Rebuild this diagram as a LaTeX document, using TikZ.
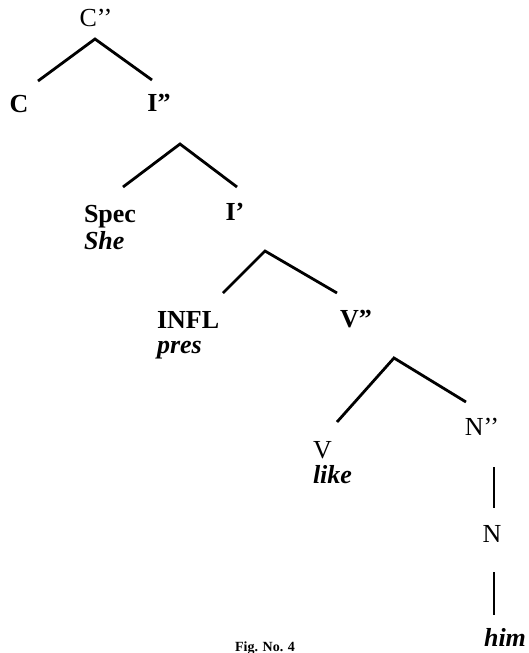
\documentclass[tikz,border=0pt]{standalone}
\usepackage{fontspec}
\setmainfont{Liberation Serif}
\begin{document}
\begin{tikzpicture}[x=1pt,y=-1pt,
  lbl/.style={inner sep=0pt,outer sep=0pt,font=\fontsize{26}{30}\selectfont},
  cat/.style={lbl,font=\fontsize{26}{30}\selectfont\bfseries},
  word/.style={lbl,font=\fontsize{26}{30}\selectfont\bfseries\itshape},
  branch/.style={line width=2.8pt,line cap=butt,line join=miter}]
\useasboundingbox (0,0) rectangle (529,653);

% category labels and words
\node[lbl,anchor=base]      (Cpp)  at (96,26)   {C’’};
\node[cat,anchor=base]      (C)    at (19,112)  {C};
\node[cat,anchor=base]      (Ipp)  at (159,111) {I”};
\node[cat,anchor=base west] (Spec) at (84,222)  {Spec};
\node[word,anchor=base west](She)  at (84,249)  {She};
\node[cat,anchor=base]      (Ip)   at (235,220) {I’};
\node[cat,anchor=base west] (INFL) at (157,328) {INFL};
\node[word,anchor=base west](pres) at (157,353) {pres};
\node[cat,anchor=base]      (Vpp)  at (356,327) {V”};
\node[lbl,anchor=base west] (V)    at (313,458) {V};
\node[word,anchor=base west](like) at (313,483) {like};
\node[lbl,anchor=base]      (Npp)  at (482,435) {N’’};
\node[lbl,anchor=base]      (N)    at (492,542) {N};
\node[word,anchor=base]     (him)  at (505,646) {him};
\node[inner sep=0pt,anchor=base,font=\fontsize{14}{16}\selectfont\bfseries]
     (cap) at (265,651) {Fig. No. 4};

% branch end points
\coordinate (t1) at (95,39);   \coordinate (l1) at (38,81);   \coordinate (r1) at (152,80);
\coordinate (t2) at (180,144); \coordinate (l2) at (123,187); \coordinate (r2) at (237,187);
\coordinate (t3) at (265,251); \coordinate (l3) at (223,293); \coordinate (r3) at (337,293);
\coordinate (t4) at (394,358); \coordinate (l4) at (337,422); \coordinate (r4) at (466,402);
\coordinate (a5) at (494,467); \coordinate (b5) at (494,508);
\coordinate (a6) at (494,572); \coordinate (b6) at (494,615);

% branches
\draw[branch] (l1) -- (t1) -- (r1);
\draw[branch] (l2) -- (t2) -- (r2);
\draw[branch] (l3) -- (t3) -- (r3);
\draw[branch] (l4) -- (t4) -- (r4);
\draw[branch] (a5) -- (b5);
\draw[branch] (a6) -- (b6);
\end{tikzpicture}
\end{document}
